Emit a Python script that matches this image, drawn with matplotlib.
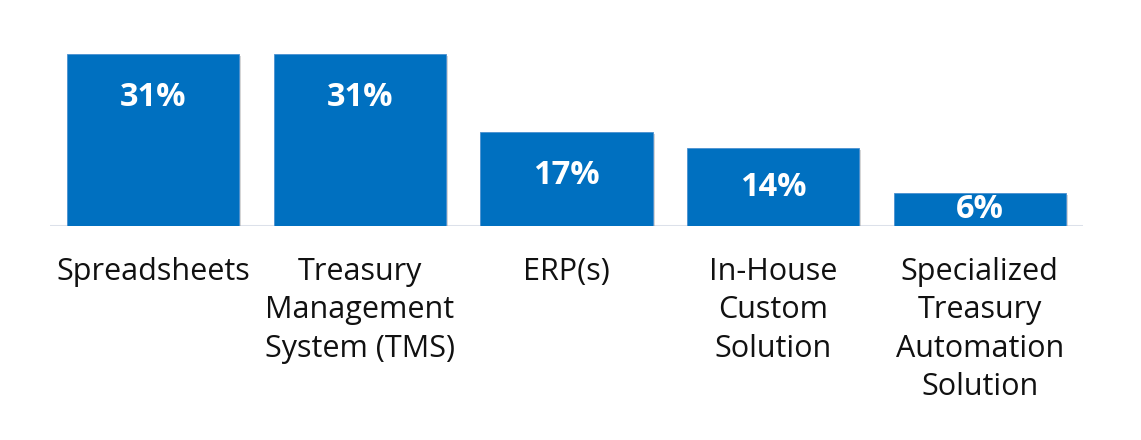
import matplotlib.pyplot as plt
import matplotlib.patheffects as pe

categories = ["Spreadsheets", "Treasury\nManagement\nSystem (TMS)", "ERP(s)",
              "In-House\nCustom\nSolution", "Specialized\nTreasury\nAutomation\nSolution"]
values = [31, 31, 17, 14, 6]
labels = ["31%", "31%", "17%", "14%", "6%"]

plt.rcParams['font.family'] = ['Open Sans', 'DejaVu Sans']

fig = plt.figure(figsize=(11.41, 4.40), dpi=100)
ax = fig.add_axes([50/1141, 214/440, 1033/1141, 194/440])

x = range(len(values))
bars = ax.bar(x, values, width=0.833, color='#0070C0', edgecolor='#4A90D0', linewidth=0.6,
              zorder=3)
for b in bars:
    b.set_path_effects([pe.SimplePatchShadow(offset=(1.5, -1.5), shadow_rgbFace='#888888',
                                             alpha=0.35), pe.Normal()])

ax.set_xlim(-0.5, len(values) - 0.5)
ax.set_ylim(0, 35)
ax.axhline(0, color='#DCE1EA', lw=2.2, zorder=2)

for i, (v, t) in enumerate(zip(values, labels)):
    y = max(v - 7.9, v / 2)
    ax.text(i, y, t, ha='center', va='center', color='white', fontsize=23.5,
            fontweight='bold', zorder=4)

ax.set_xticks(list(x))
ax.set_xticklabels(categories, fontsize=22, linespacing=1.37, color='#111111')
ax.tick_params(axis='x', length=0, pad=22)
ax.set_yticks([])
for s in ax.spines.values():
    s.set_visible(False)

fig.savefig('out.png', dpi=100)
